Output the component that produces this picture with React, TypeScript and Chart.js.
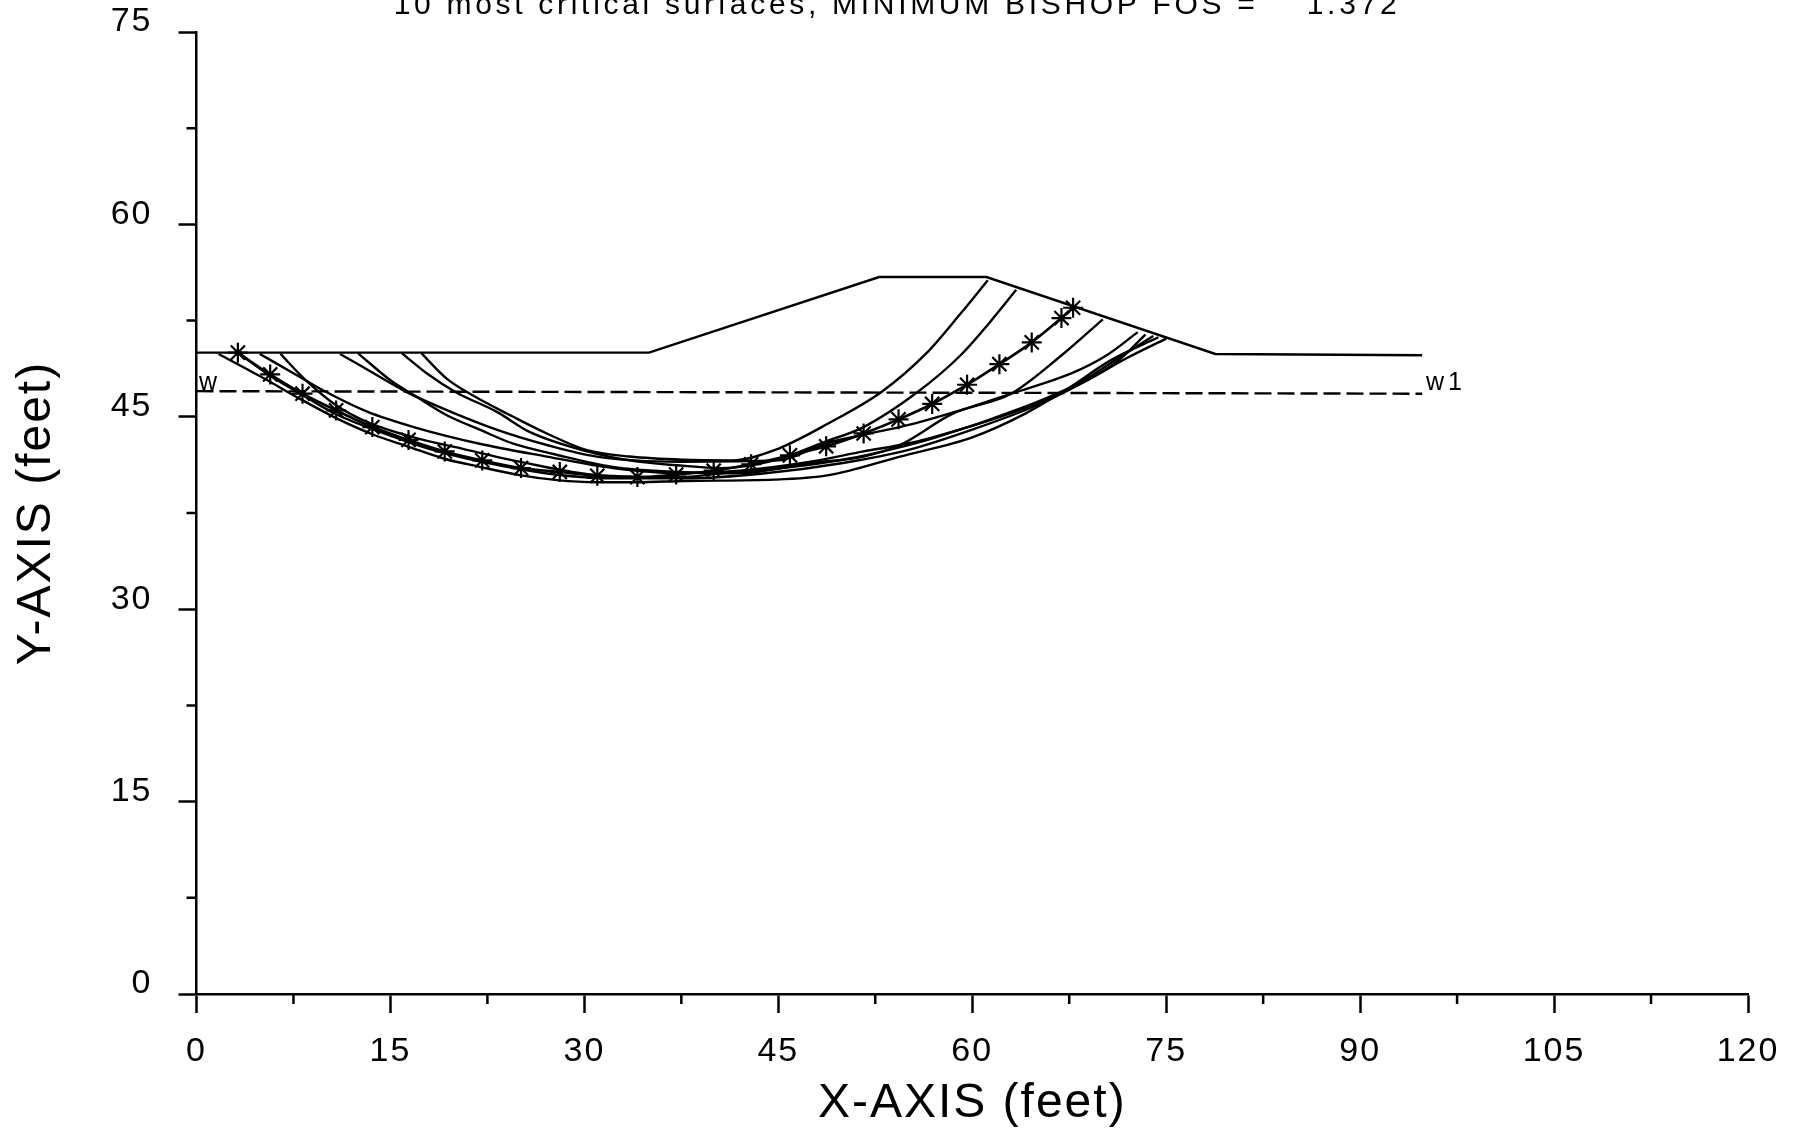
import React, { useEffect, useRef } from "react";
import { Chart, registerables } from "chart.js";

Chart.register(...registerables);

type Pt = [number, number];

const titleText = "10 most critical surfaces, MINIMUM BISHOP FOS =    1.372";
const xAxisLabel = "X-AXIS (feet)";
const yAxisLabel = "Y-AXIS (feet)";

const ground: Pt[] = [[0, 50], [35, 50], [52.8, 55.9], [61.1, 55.9], [78.8, 49.9], [94.8, 49.8]];
const water: Pt[] = [[0, 47], [94.8, 46.8]];
const waterLabels: { x: number; y: number; text: string }[] = [
  { x: 0.2, y: 47.1, text: "w" },
  { x: 95.1, y: 47.1, text: "w1" },
];

const critical: Pt[] = [
  [3.2, 50], [5.7, 48.3], [8.2, 46.8], [10.8, 45.5], [13.6, 44.2], [16.4, 43.2], [19.2, 42.3], [22.1, 41.6],
  [25.1, 41], [28.1, 40.7], [31, 40.4], [34.1, 40.3], [37.1, 40.5], [40, 40.8], [42.9, 41.3], [45.9, 42],
  [48.7, 42.7], [51.6, 43.7], [54.3, 44.8], [56.9, 46], [59.6, 47.5], [62.1, 49.1], [64.6, 50.8], [66.9, 52.7], [67.8, 53.5],
];

const surfaceA: Pt[] = [[17.4, 49.95], [19.35, 47.98], [21.15, 46.8], [24.5, 45], [27.1, 43.7], [30.2, 42.4], [33.5, 41.9], [37.6, 41.65], [41.4, 41.6], [44.7, 42.4], [48.9, 44.5], [53, 46.95], [56.4, 49.9], [59.1, 53.05], [61.2, 55.65]];
const surfaceB: Pt[] = [[15.9, 49.95], [17.8, 48.4], [20.1, 46.9], [23.2, 45.4], [25.8, 43.8], [30.2, 42.3], [33.5, 41.6], [37.4, 41.2], [40.6, 41], [44.7, 41.6], [48.6, 43.05], [51.6, 44.2], [55.8, 46.95], [59.1, 49.8], [61.3, 52.3], [63.4, 54.9]];
const surfaceC: Pt[] = [[12.5, 49.95], [15, 47.85], [16.8, 46.7], [19.4, 45.1], [21.9, 44], [24.5, 42.9], [27.6, 42.1], [32.2, 41.1], [37.4, 40.7], [42, 40.6], [47.5, 41.4], [51.6, 41.9], [54.4, 42.8], [58.5, 45.25], [63, 46.8], [66.8, 49.7], [70.1, 52.6]];
const surfaceD: Pt[] = [[11.1, 49.9], [13.7, 48.4], [16.3, 46.9], [19.4, 45.5], [23.2, 44], [27.1, 42.8], [30.95, 41.9], [37.4, 41.5], [45, 41.6], [48.6, 42.9], [51.6, 43.6], [55, 44.35], [60, 45.8], [63, 46.8], [67.7, 48.4], [70.4, 49.8], [72.8, 51.6]];
const surfaceE: Pt[] = [[6.5, 49.9], [8.3, 48], [10.8, 45.9], [13.4, 44.5], [16.8, 43.4], [20.6, 42.5], [25, 41.5], [31, 40.45], [37.4, 40.3], [40.6, 40.6], [46.1, 41.1], [50.5, 41.75], [53.9, 42.5], [57.2, 43.4], [64.1, 45.8], [67.4, 47.2], [71, 49.15], [73.4, 51.4]];
const surfaceF: Pt[] = [[4.9, 49.9], [8, 48.1], [10, 46.95], [13.2, 45.4], [16.8, 44.2], [21.9, 42.9], [27.1, 41.9], [32.2, 41], [37.4, 40.6], [42, 40.8], [47.5, 41.5], [51.6, 42.3], [54.4, 42.8], [56.6, 43.3], [64.9, 46], [68.2, 47.6], [71.5, 49.7], [74, 51.3]];
const surfaceG: Pt[] = [[3.2, 50], [5.7, 48.2], [8.2, 46.7], [10.8, 45.2], [14, 43.9], [18, 42.5], [22, 41.5], [27, 40.6], [32, 40.2], [38, 40.2], [44, 40.6], [50, 41.4], [55, 42.4], [60, 44], [65, 45.9], [69, 47.9], [72, 49.6], [75, 51.1]];
const surfaceH: Pt[] = [[1.7, 49.9], [5.2, 48], [8, 46.4], [10.8, 44.9], [13.7, 43.6], [16.3, 42.7], [19.1, 41.75], [21.9, 41.1], [25, 40.45], [27.9, 40.06], [31, 39.9], [34, 39.9], [37.8, 40], [44.7, 40.1], [48.9, 40.45], [54.4, 41.9], [60, 43.4], [64.1, 45.25], [67.4, 47.2], [70.7, 49.4], [74.4, 51.2]];
const surfaces = [surfaceA, surfaceB, surfaceC, surfaceD, surfaceE, surfaceF, surfaceG, surfaceH];

const INK = "#000";
const FONT = "'Liberation Sans', Arial, sans-serif";

const toXY = (p: Pt[]) => p.map(([x, y]) => ({ x, y }));

const minorTicks = {
  id: "minorTicks",
  beforeDraw(c: any) {
    c.ctx.letterSpacing = "2px";
  },
  afterDatasetsDraw(c: any) {
    const { ctx, scales, chartArea } = c;
    ctx.save();
    ctx.strokeStyle = INK;
    ctx.lineWidth = 2.5;
    ctx.beginPath();
    scales.x.ticks.forEach((t: any) => {
      if (t.value % 15 !== 0) {
        const px = scales.x.getPixelForValue(t.value);
        ctx.moveTo(px, chartArea.bottom);
        ctx.lineTo(px, chartArea.bottom + 10);
      }
    });
    scales.y.ticks.forEach((t: any) => {
      if (t.value % 15 !== 0) {
        const py = scales.y.getPixelForValue(t.value);
        ctx.moveTo(chartArea.left, py);
        ctx.lineTo(chartArea.left - 10, py);
      }
    });
    ctx.stroke();
    ctx.fillStyle = INK;
    ctx.letterSpacing = "4px";
    ctx.font = `25px ${FONT}`;
    ctx.textBaseline = "alphabetic";
    ctx.textAlign = "left";
    waterLabels.forEach((l) => {
      ctx.fillText(l.text, scales.x.getPixelForValue(l.x), scales.y.getPixelForValue(l.y));
    });
    ctx.letterSpacing = "3.7px";
    ctx.font = `30px ${FONT}`;
    ctx.textAlign = "center";
    ctx.textBaseline = "middle";
    ctx.fillText(titleText, 897, 6);
    ctx.restore();
  },
};

export default function App() {
  const ref = useRef<HTMLCanvasElement>(null);
  useEffect(() => {
    const line = (data: Pt[], extra: any = {}) => ({
      data: toXY(data),
      showLine: true,
      borderColor: INK,
      backgroundColor: INK,
      borderWidth: 2.4,
      pointRadius: 0,
      cubicInterpolationMode: "monotone",
      ...extra,
    });
    const chart = new Chart(ref.current!, {
      type: "scatter",
      plugins: [minorTicks],
      data: {
        datasets: [
          line(ground, { cubicInterpolationMode: "default", tension: 0 }),
          line(water, { cubicInterpolationMode: "default", tension: 0, borderDash: [17, 6] }),
          ...surfaces.map((s) => line(s)),
          line(critical, {
            pointRadius: 10,
            pointStyle: "star",
            pointBorderColor: INK,
            pointBorderWidth: 2.2,
            borderWidth: 2.6,
          }),
        ],
      } as any,
      options: {
        animation: false,
        responsive: false,
        devicePixelRatio: 1,
        layout: { padding: { top: 32, right: 50, left: 0, bottom: 0 } },
        plugins: { legend: { display: false }, tooltip: { enabled: false }, title: { display: false } },
        scales: {
          x: {
            type: "linear",
            min: 0,
            max: 120,
            afterFit: (s: any) => { s.height = 136; s.paddingLeft = 0; s.paddingRight = 0; },
            border: { color: INK, width: 2.5 },
            grid: {
              drawOnChartArea: false,
              tickLength: 19,
              tickWidth: 2.5,
              tickColor: (ctx: any) => (ctx.tick && ctx.tick.value % 15 === 0 ? INK : "rgba(0,0,0,0)"),
            },
            ticks: {
              stepSize: 7.5,
              autoSkip: false,
              maxRotation: 0,
              padding: 18,
              color: INK,
              font: { family: FONT, size: 34 },
              callback: (v: any) => (Number(v) % 15 === 0 ? String(v) : ""),
            },
            title: {
              display: true,
              text: xAxisLabel,
              color: INK,
              font: { family: FONT, size: 48 },
              padding: { top: 0, bottom: -3 },
            },
          },
          y: {
            type: "linear",
            min: 0,
            max: 75,
            afterFit: (s: any) => { s.width = 196.5; s.paddingTop = 0; s.paddingBottom = 0; },
            border: { color: INK, width: 2.5 },
            grid: {
              drawOnChartArea: false,
              tickLength: 18,
              tickWidth: 2.5,
              tickColor: (ctx: any) => (ctx.tick && ctx.tick.value % 15 === 0 ? INK : "rgba(0,0,0,0)"),
            },
            ticks: {
              stepSize: 7.5,
              autoSkip: false,
              padding: 26,
              labelOffset: -10,
              color: INK,
              font: { family: FONT, size: 34 },
              callback: (v: any) => (Number(v) % 15 === 0 ? String(v) : ""),
            },
            title: {
              display: true,
              text: yAxisLabel,
              color: INK,
              font: { family: FONT, size: 48 },
              padding: { top: 8, bottom: 0 },
            },
          },
        },
      },
    } as any);
    return () => chart.destroy();
  }, []);
  return (
    <canvas
      ref={ref}
      width={1798}
      height={1130}
      style={{ position: "absolute", left: 0, top: 0, width: 1798, height: 1130, background: "#fff" }}
    />
  );
}
